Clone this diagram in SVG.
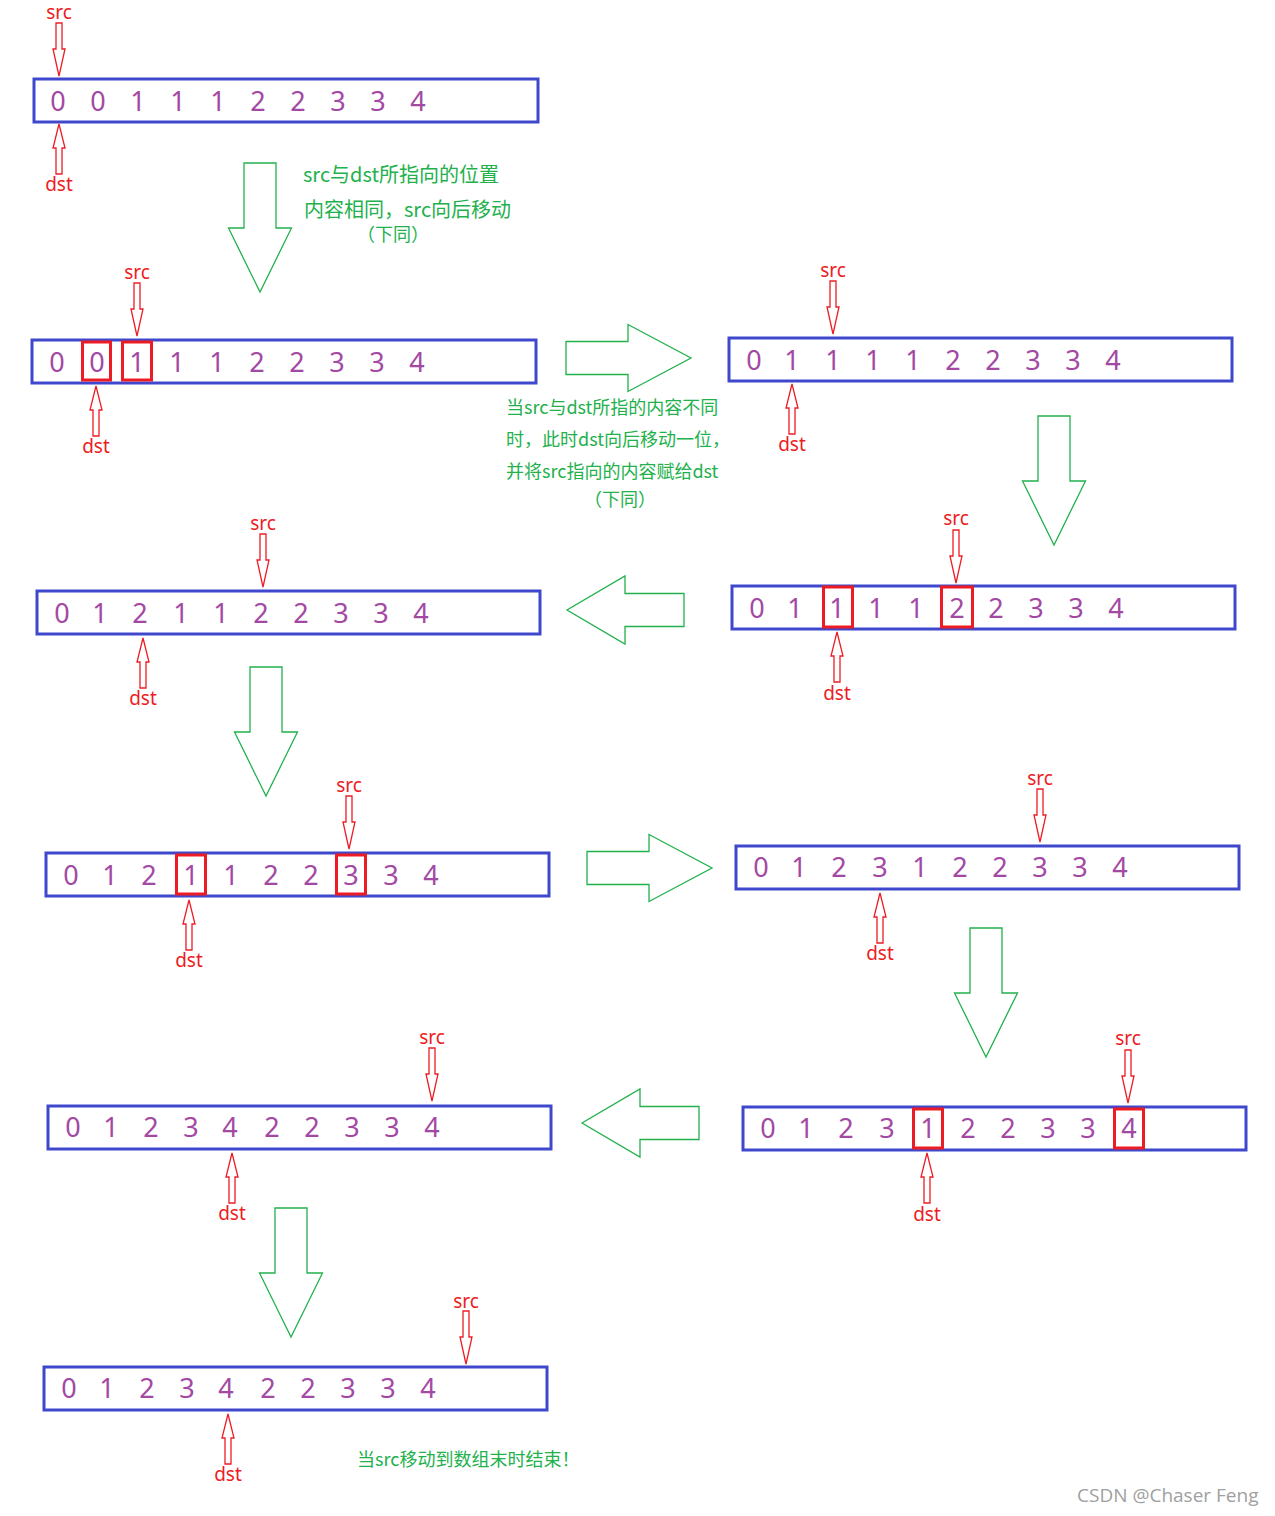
<svg xmlns="http://www.w3.org/2000/svg" xmlns:xlink="http://www.w3.org/1999/xlink" width="1275" height="1516" viewBox="0 0 1275 1516">
<style>
.box{fill:none;stroke:#3f48cc;stroke-width:3}
.hl{fill:none;stroke:#ed1c24;stroke-width:3}
.dg{font-family:"Noto Sans","Noto Sans CJK SC",sans-serif;font-size:27px;fill:#a349a4;text-anchor:start}
.lb{font-family:"Noto Sans","Noto Sans CJK SC",sans-serif;font-size:19px;fill:#ed1c24;text-anchor:middle}
.ptr{fill:#fff;stroke:#ed1c24;stroke-width:1.3}
.big{fill:#fff;stroke:#22b14c;stroke-width:1.3}
.gt{font-family:"Noto Sans CJK SC",sans-serif;fill:#22b14c}
.wm{font-family:"Open Sans","Noto Sans",sans-serif;font-size:19px;fill:#a0a0a0}
</style>
<defs>
<path id="pd" class="ptr" d="M-3,-53 H3 V-27 H6 L0,0 L-6,-27 H-3 Z"/>
<path id="pu" class="ptr" d="M0,0 L6,24 H3 V50 H-3 V24 H-6 Z"/>
<path id="bd" class="big" d="M-16,-129 H16 V-64 H31.5 L0,0 L-31.5,-64 H-16 Z"/>
<path id="br" class="big" d="M-125,-16.5 H-63 V-33.5 L0,0 L-63,33.5 V16.5 H-125 Z"/>
<path id="bl" class="big" d="M117,-16.5 H58 V-34 L0,0 L58,34 V16.5 H117 Z"/>
</defs>

<g id="rowA">
<rect class="box" x="34" y="79" width="504" height="43"/>
<text class="dg" y="111" transform="translate(-7.7 0)"><tspan x="58">0</tspan> <tspan x="98">0</tspan> <tspan x="138">1</tspan> <tspan x="178">1</tspan> <tspan x="218">1</tspan> <tspan x="258">2</tspan> <tspan x="298">2</tspan> <tspan x="338">3</tspan> <tspan x="378">3</tspan> <tspan x="418">4</tspan></text>
<text class="lb" x="59" y="19">src</text><use href="#pd" x="59" y="76"/>
<use href="#pu" x="59" y="124"/><text class="lb" x="59" y="191">dst</text>
</g>

<g id="rowB">
<rect class="box" x="32" y="340" width="504" height="43"/>
<rect class="hl" x="82.5" y="342" width="28" height="38"/>
<rect class="hl" x="122.5" y="342" width="29" height="38"/>
<text class="dg" y="372" transform="translate(-7.7 0)"><tspan x="57">0</tspan> <tspan x="97">0</tspan> <tspan x="137">1</tspan> <tspan x="177">1</tspan> <tspan x="217">1</tspan> <tspan x="257">2</tspan> <tspan x="297">2</tspan> <tspan x="337">3</tspan> <tspan x="377">3</tspan> <tspan x="417">4</tspan></text>
<text class="lb" x="137" y="279">src</text><use href="#pd" x="137" y="336"/>
<use href="#pu" x="96" y="386"/><text class="lb" x="96" y="453">dst</text>
</g>

<g id="rowC">
<rect class="box" x="729" y="338" width="503" height="43"/>
<text class="dg" y="370" transform="translate(-7.7 0)"><tspan x="754">0</tspan> <tspan x="792">1</tspan> <tspan x="833">1</tspan> <tspan x="873">1</tspan> <tspan x="913">1</tspan> <tspan x="953">2</tspan> <tspan x="993">2</tspan> <tspan x="1033">3</tspan> <tspan x="1073">3</tspan> <tspan x="1113">4</tspan></text>
<text class="lb" x="833" y="277">src</text><use href="#pd" x="833" y="334"/>
<use href="#pu" x="792" y="384"/><text class="lb" x="792" y="451">dst</text>
</g>

<g id="rowD">
<rect class="box" x="732" y="586" width="503" height="43"/>
<rect class="hl" x="823.5" y="587" width="29" height="40"/>
<rect class="hl" x="941.5" y="587" width="31" height="40"/>
<text class="dg" y="618" transform="translate(-7.7 0)"><tspan x="757">0</tspan> <tspan x="795">1</tspan> <tspan x="837">1</tspan> <tspan x="876">1</tspan> <tspan x="916">1</tspan> <tspan x="957">2</tspan> <tspan x="996">2</tspan> <tspan x="1036">3</tspan> <tspan x="1076">3</tspan> <tspan x="1116">4</tspan></text>
<text class="lb" x="956" y="525">src</text><use href="#pd" x="956" y="583"/>
<use href="#pu" x="837" y="632"/><text class="lb" x="837" y="700">dst</text>
</g>

<g id="rowE">
<rect class="box" x="37" y="591" width="503" height="43"/>
<text class="dg" y="623" transform="translate(-7.7 0)"><tspan x="62">0</tspan> <tspan x="100">1</tspan> <tspan x="140">2</tspan> <tspan x="181">1</tspan> <tspan x="221">1</tspan> <tspan x="261">2</tspan> <tspan x="301">2</tspan> <tspan x="341">3</tspan> <tspan x="381">3</tspan> <tspan x="421">4</tspan></text>
<text class="lb" x="263" y="530">src</text><use href="#pd" x="263" y="587"/>
<use href="#pu" x="143" y="638"/><text class="lb" x="143" y="705">dst</text>
</g>

<g id="rowF">
<rect class="box" x="46" y="853" width="503" height="43"/>
<rect class="hl" x="176.5" y="855" width="29" height="39"/>
<rect class="hl" x="336.5" y="855" width="29" height="39"/>
<text class="dg" y="885" transform="translate(-7.7 0)"><tspan x="71">0</tspan> <tspan x="110">1</tspan> <tspan x="149">2</tspan> <tspan x="191">1</tspan> <tspan x="231">1</tspan> <tspan x="271">2</tspan> <tspan x="311">2</tspan> <tspan x="351">3</tspan> <tspan x="391">3</tspan> <tspan x="431">4</tspan></text>
<text class="lb" x="349" y="792">src</text><use href="#pd" x="349" y="849"/>
<use href="#pu" x="189" y="900"/><text class="lb" x="189" y="967">dst</text>
</g>

<g id="rowG">
<rect class="box" x="736" y="846" width="503" height="43"/>
<text class="dg" y="877" transform="translate(-7.7 0)"><tspan x="761">0</tspan> <tspan x="799">1</tspan> <tspan x="839">2</tspan> <tspan x="880">3</tspan> <tspan x="920">1</tspan> <tspan x="960">2</tspan> <tspan x="1000">2</tspan> <tspan x="1040">3</tspan> <tspan x="1080">3</tspan> <tspan x="1120">4</tspan></text>
<text class="lb" x="1040" y="785">src</text><use href="#pd" x="1040" y="842"/>
<use href="#pu" x="880" y="893"/><text class="lb" x="880" y="960">dst</text>
</g>

<g id="rowH">
<rect class="box" x="743" y="1107" width="503" height="43"/>
<rect class="hl" x="913.5" y="1109" width="29" height="39"/>
<rect class="hl" x="1114.5" y="1109" width="29" height="39"/>
<text class="dg" y="1138" transform="translate(-7.7 0)"><tspan x="768">0</tspan> <tspan x="806">1</tspan> <tspan x="846">2</tspan> <tspan x="887">3</tspan> <tspan x="928">1</tspan> <tspan x="968">2</tspan> <tspan x="1008">2</tspan> <tspan x="1048">3</tspan> <tspan x="1088">3</tspan> <tspan x="1129">4</tspan></text>
<text class="lb" x="1128" y="1045">src</text><use href="#pd" x="1128" y="1103"/>
<use href="#pu" x="927" y="1153"/><text class="lb" x="927" y="1221">dst</text>
</g>

<g id="rowI">
<rect class="box" x="48" y="1106" width="503" height="43"/>
<text class="dg" y="1137" transform="translate(-7.7 0)"><tspan x="73">0</tspan> <tspan x="111">1</tspan> <tspan x="151">2</tspan> <tspan x="191">3</tspan> <tspan x="230">4</tspan> <tspan x="272">2</tspan> <tspan x="312">2</tspan> <tspan x="352">3</tspan> <tspan x="392">3</tspan> <tspan x="432">4</tspan></text>
<text class="lb" x="432" y="1044">src</text><use href="#pd" x="432" y="1101"/>
<use href="#pu" x="232" y="1153"/><text class="lb" x="232" y="1220">dst</text>
</g>

<g id="rowJ">
<rect class="box" x="44" y="1367" width="503" height="43"/>
<text class="dg" y="1398" transform="translate(-7.7 0)"><tspan x="69">0</tspan> <tspan x="107">1</tspan> <tspan x="147">2</tspan> <tspan x="187">3</tspan> <tspan x="226">4</tspan> <tspan x="268">2</tspan> <tspan x="308">2</tspan> <tspan x="348">3</tspan> <tspan x="388">3</tspan> <tspan x="428">4</tspan></text>
<text class="lb" x="466" y="1308">src</text><use href="#pd" x="466" y="1364"/>
<use href="#pu" x="228" y="1414"/><text class="lb" x="228" y="1481">dst</text>
</g>

<g id="connectors">
<use href="#bd" x="260" y="292"/>
<use href="#br" x="691" y="358"/>
<use href="#bd" x="1054" y="545"/>
<use href="#bl" x="567" y="610"/>
<use href="#bd" x="266" y="796"/>
<use href="#br" x="712" y="868"/>
<use href="#bd" x="986" y="1057"/>
<use href="#bl" x="582" y="1123"/>
<use href="#bd" x="291" y="1337"/>
</g>

<g id="notes">
<text class="gt" font-size="20" x="303" y="182">src与dst所指向的位置</text>
<text class="gt" font-size="20" x="304" y="217">内容相同，src向后移动</text>
<text class="gt" font-size="18" x="393" y="241" text-anchor="middle">（下同）</text>
<text class="gt" font-size="18" x="506" y="414">当src与dst所指的内容不同</text>
<text class="gt" font-size="18" x="506" y="446">时，此时dst向后移动一位，</text>
<text class="gt" font-size="18" x="506" y="478">并将src指向的内容赋给dst</text>
<text class="gt" font-size="18" x="620" y="506" text-anchor="middle">（下同）</text>
<text class="gt" font-size="18" x="357" y="1466">当src移动到数组末时结束！</text>
<text class="wm" x="1077" y="1502">CSDN @Chaser Feng</text>
</g>
</svg>
